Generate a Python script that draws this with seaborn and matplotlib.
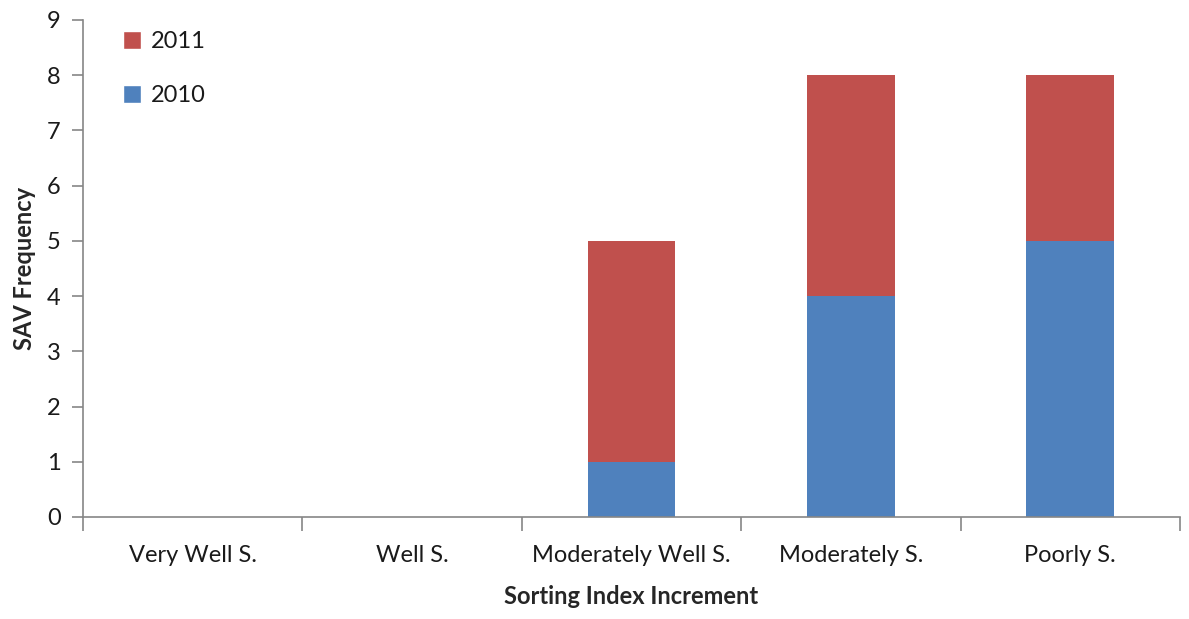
import numpy as np
import pandas as pd
import seaborn as sns
import matplotlib.pyplot as plt
from matplotlib.patches import Patch

sns.set_theme(style="white")
plt.rcParams["font.family"] = ["Lato", "DejaVu Sans"]
plt.rcParams["text.color"] = "#1a1a1a"
plt.rcParams["xtick.color"] = "#1a1a1a"
plt.rcParams["ytick.color"] = "#1a1a1a"

categories = ["Very Well S.", "Well S.", "Moderately Well S.", "Moderately S.", "Poorly S."]
freq_2010 = [0, 0, 1, 4, 5]
freq_2011 = [0, 0, 4, 4, 3]

c2010 = "#4F81BD"
c2011 = "#C0504D"

df = pd.DataFrame({"cat": categories, "y2010": freq_2010, "y2011": freq_2011})
df["total"] = df["y2010"] + df["y2011"]

fig = plt.figure(figsize=(11.89, 6.19), dpi=100)
ax = fig.add_axes([0.0698, 0.1648, 0.9226, 0.8029])

# stacked: total first (red), then 2010 on top of it (blue)
sns.barplot(data=df, x="cat", y="total", color=c2011, width=0.4, ax=ax, saturation=1, linewidth=0)
sns.barplot(data=df, x="cat", y="y2010", color=c2010, width=0.4, ax=ax, saturation=1, linewidth=0)

ax.set_xlim(-0.5, len(categories) - 0.5)
ax.set_ylim(0, 9)
ax.set_yticks(range(0, 10))

for s in ["top", "right"]:
    ax.spines[s].set_visible(False)
for s in ["left", "bottom"]:
    ax.spines[s].set_color("#868686")
    ax.spines[s].set_linewidth(1.2)

ax.tick_params(axis="y", which="major", left=True, length=8, width=1.2, color="#868686",
               labelsize=17, pad=8)
ax.tick_params(axis="x", which="major", bottom=False, labelsize=17, pad=14)
ax.set_xticks(np.arange(-0.5, len(categories)), minor=True)
ax.tick_params(axis="x", which="minor", bottom=True, length=10, width=1.2, color="#868686")

ax.set_xlabel("Sorting Index Increment", fontsize=17, fontweight="bold", labelpad=14)
ax.set_ylabel("SAV Frequency", fontsize=17, fontweight="bold", labelpad=8)

handles = [Patch(facecolor=c2011, label="2011"), Patch(facecolor=c2010, label="2010")]
ax.legend(handles=handles, loc="upper left", bbox_to_anchor=(0.017, 1.02), frameon=False,
          fontsize=17, handlelength=0.75, handleheight=0.75, labelspacing=1.4, handletextpad=0.45)

fig.savefig("out.png", dpi=100)
